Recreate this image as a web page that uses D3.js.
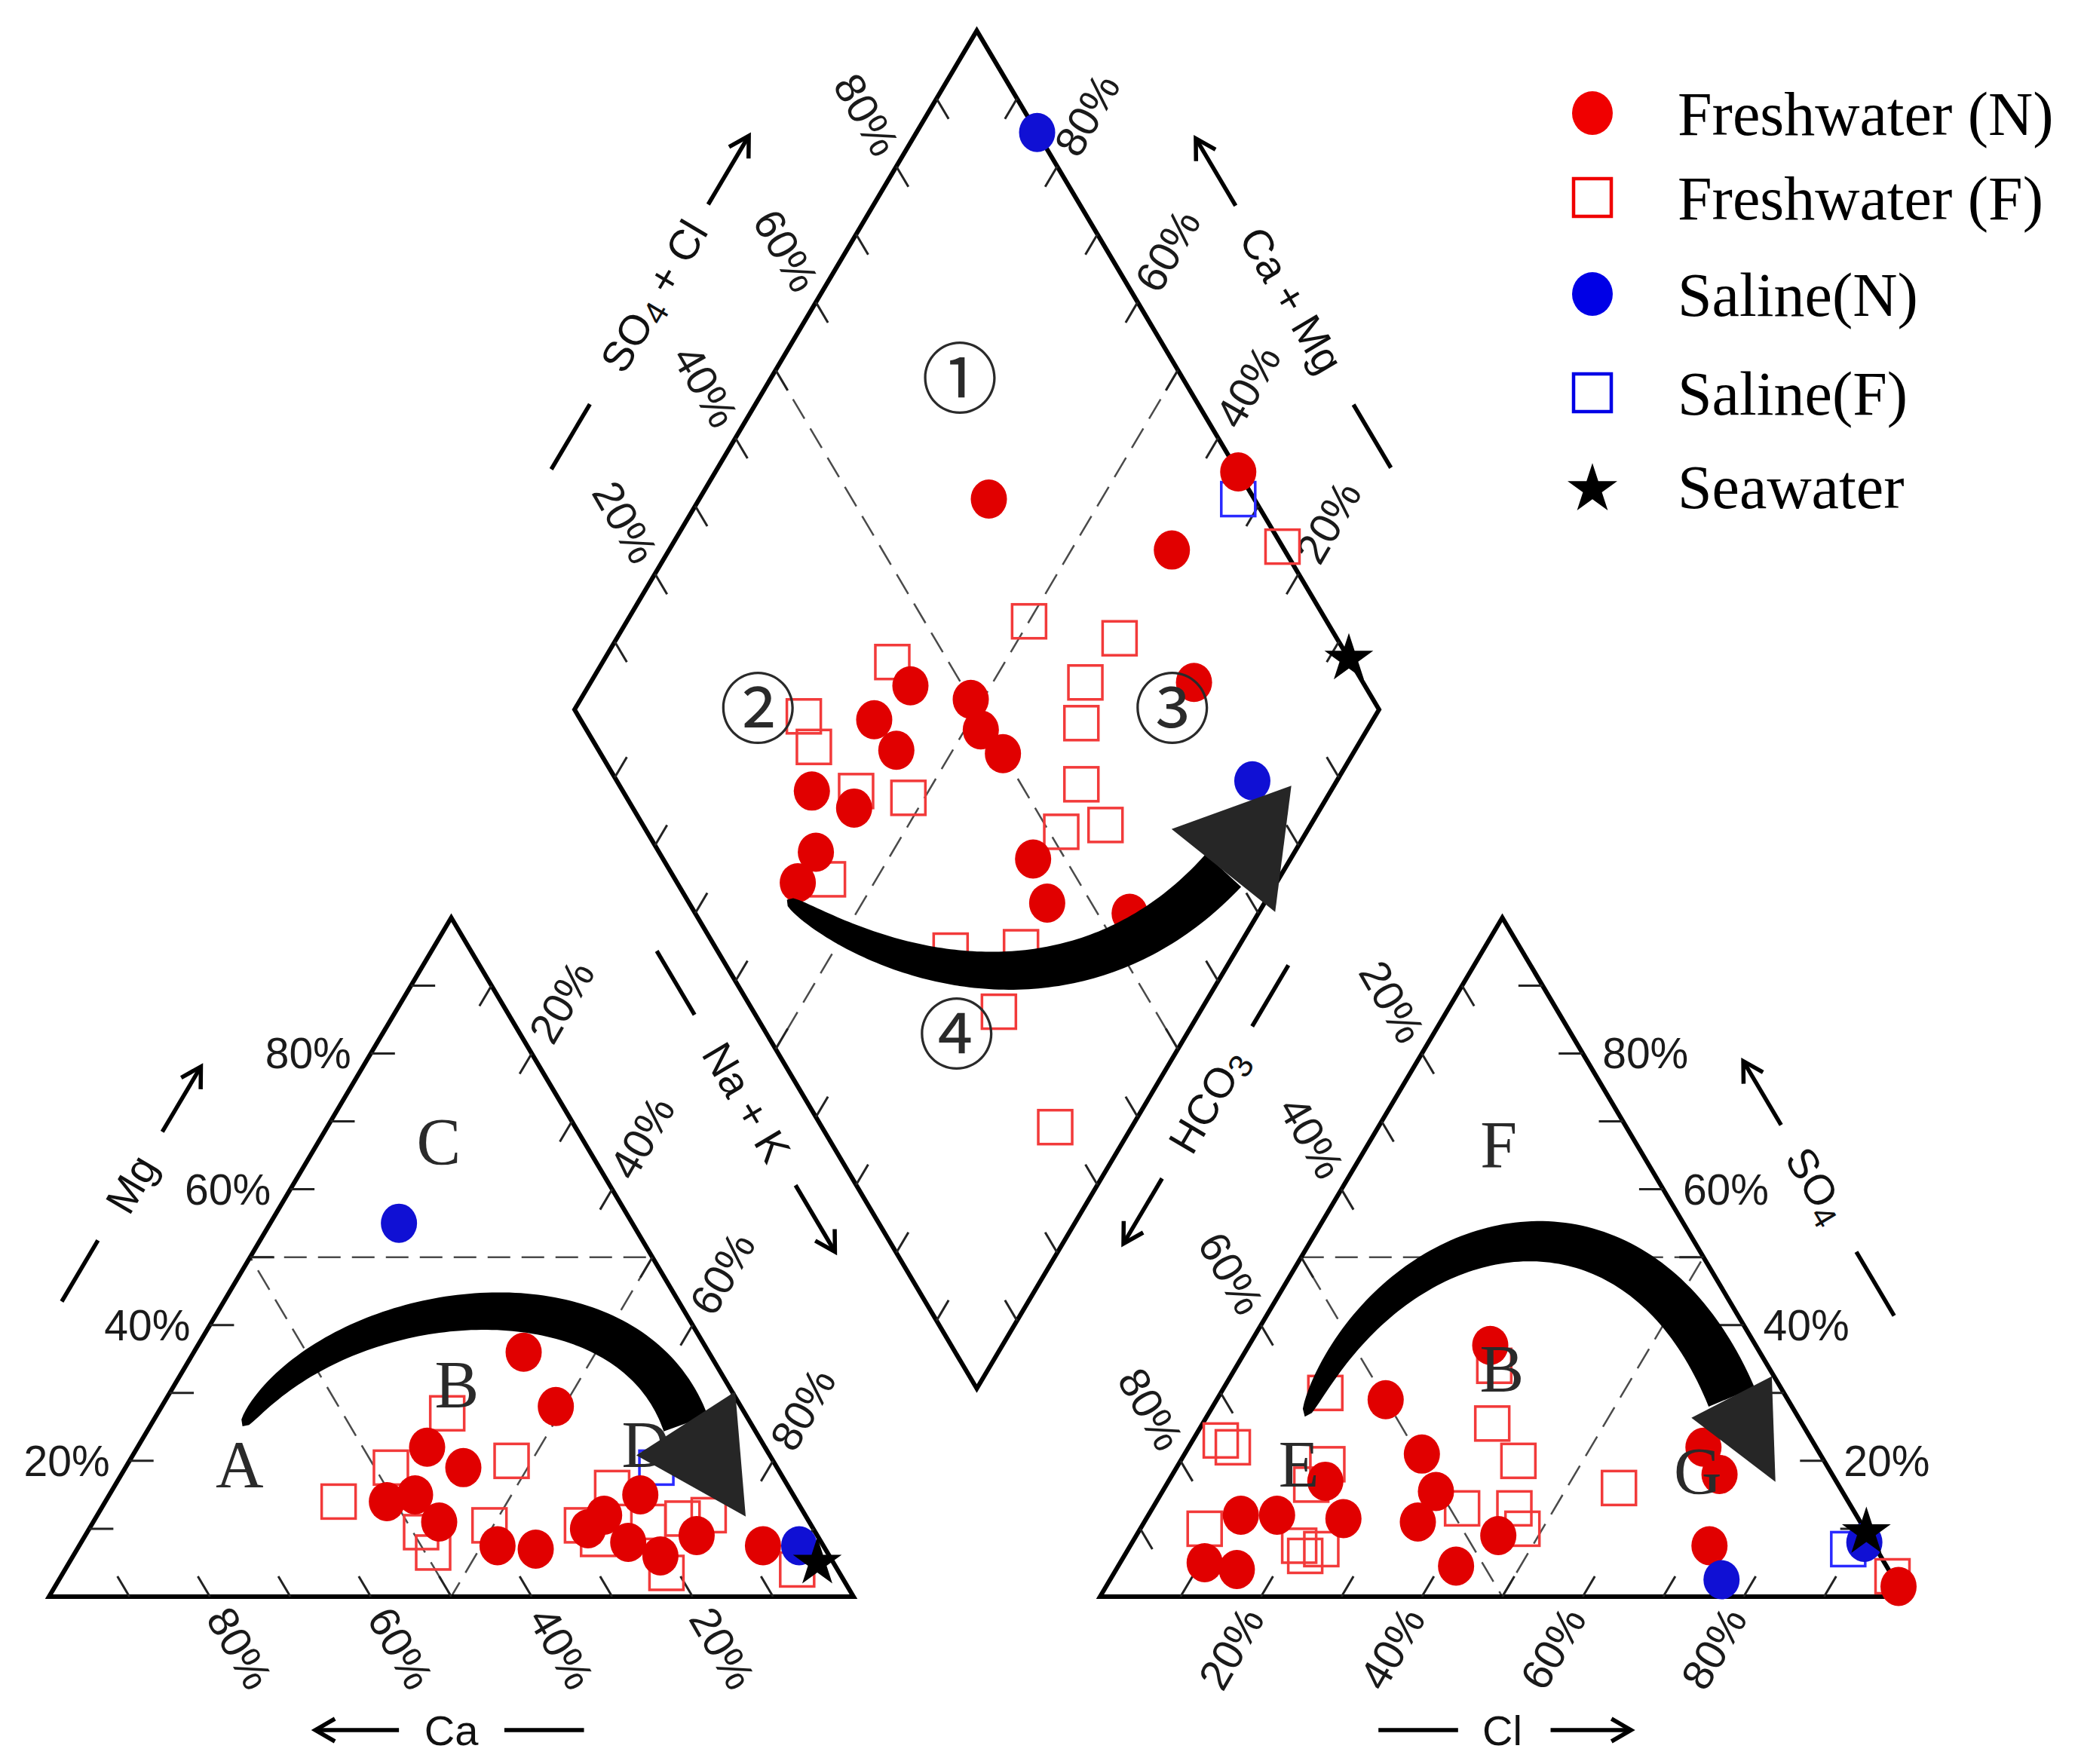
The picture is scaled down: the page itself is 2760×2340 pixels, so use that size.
<!DOCTYPE html>
<html><head><meta charset="utf-8">
<script src="https://cdn.jsdelivr.net/npm/d3@7"></script>
<style>html,body{margin:0;padding:0;background:#fff}</style>
</head><body>
<svg id="chart" width="2760" height="2340" xmlns="http://www.w3.org/2000/svg"></svg>
<script>
// ================= DATA =================
// Cation triangle points: [Mg %, Na+K %]  (Ca = 100 - Mg - Na+K)
const cationFreshN = [[36,41],[28,49],[22,36],[19,42],[14,35],[15,38],[11,43],[7.5,52],[7,57],
  [15,66],[12,63],[10,62],[8,68],[6,73],[9,76],[7.5,85]];
const cationFreshF = [[14,29],[19,33],[27,36],[20,47.5],[9.5,41.5],[6.5,44.5],[10.5,49.5],[10.5,61],
  [16,62],[8.5,64],[11,69],[3.5,75],[11.5,73],[12,76],[4,91]];
const cationSalineN = [[55,16],[7.5,89.5]];
const cationSalineF = [[19,66]];
const cationSeawater = [[5,93]];

// Anion triangle points: [SO4 %, Cl %]  (HCO3 = 100 - SO4 - Cl)
const anionFreshN = [[37,30],[29,21],[21,29.5],[15.5,34],[11,34],[17,19.5],[11.5,24.5],[12,16],[12,11.5],
  [5,10.5],[4,15],[4.5,42],[9,45],[22,64],[18,68],[7.5,72],[1.5,98.5]];
const anionFreshF = [[30,13],[34,32],[25.5,36],[20,42],[23,3.5],[22,5.5],[19.5,18.5],[16.5,18],[10,8],
  [7.5,21],[6,22.5],[7,24],[13,38.5],[13,45],[10,47.5],[16,56.5],[3,97]];
const anionSalineN = [[2.5,76],[8,91]];
const anionSalineF = [[7,89.5]];
const anionSeawater = [[9.5,90.5]];

// Diamond points: [SO4+Cl %, Na+K %]
const diamondFreshN = [[43.5,40],[36.5,38],[37,43],[23.5,35.5],[27.5,42],[19.5,40.5],[15,40.5],[50,48.5],
  [49,52],[50,56.5],[46,68],[44.5,73],[54,84],[79,75],[67,36],[100,65],[86,62.5]];
const diamondFreshF = [[63,50],[43,36],[73,62.5],[65.5,61.5],[62,64],[28,29],[27,32.5],[29,41],[35,48],
  [57.5,68.5],[57.5,74.5],[51.5,69.5],[19,44],[29,64.5],[38,73],[30.5,75],[29,90.5],[100,76]];
const diamondSalineN = [[100,15],[79,89.5]];
const diamondSalineF = [[98,67]];
const diamondSeawater = [[100,92.5]];

const tickValues = [20,40,60,80];
const legendLabels = ["Freshwater (N)","Freshwater (F)","Saline(N)","Saline(F)","Seawater"];
const cationRegions = [["C",67.1,14.9],["B",31.4,35],["A",19.6,13.9],["D",22.5,62.9]];
const anionRegions  = [["F",66.7,16.2],["B",33.7,33.1],["E",19.6,14.9],["G",18.6,65]];
const diamondRegions = [["\u2460",72.2,23.6],["\u2461",22.8,22.8],["\u2462",74.3,74.3],["\u2463",23.5,71.5]];

// ================= GEOMETRY =================
const SQ3 = Math.sqrt(3);
const GAP = 0.3065;
const x = d3.scaleLinear().domain([0, 2 + GAP]).range([65, 2526]);
const y = d3.scaleLinear().domain([0, 1]).range([2118, 2118 - 1040]);
function cat(mg, nak){ mg/=100; nak/=100; return [nak + mg/2, mg*SQ3/2]; }
function an(so4, cl){ so4/=100; cl/=100; return [1 + GAP + cl + so4/2, so4*SQ3/2]; }
function dia(a, c){ a/=100; c/=100; const bx = 1 + GAP/2, by = GAP/2*SQ3;
  return [bx + 0.5*(a + c - 1), by + SQ3/2*(a + 1 - c)]; }
const S = p => [x(p[0]), y(p[1])];

const svg = d3.select('#chart');
svg.append('rect').attr('width',2760).attr('height',2340).attr('fill','#fff');
const SANS = "'Liberation Sans', Arial, sans-serif";
const SERIF = "'Liberation Serif', 'Times New Roman', serif";
const line = d3.line();

// ---- dashed region lines ----
const gDash = svg.append('g').attr('fill','none').attr('stroke','#4a4a4a')
  .attr('stroke-width',2.5).attr('stroke-dasharray','30,15');
gDash.append('path').attr('d', line([cat(50,0),cat(50,50),cat(0,50)].map(S)) + 'Z');
gDash.append('path').attr('d', line([an(50,0),an(50,50),an(0,50)].map(S)) + 'Z');
gDash.append('path').attr('d', line([dia(50,0),dia(50,100)].map(S)));
gDash.append('path').attr('d', line([dia(100,50),dia(0,50)].map(S)));

// ---- frames ----
const gFrame = svg.append('g').attr('fill','none').attr('stroke','#000')
  .attr('stroke-width',6).attr('stroke-linejoin','miter').attr('stroke-miterlimit',10);
gFrame.append('path').attr('d', line([cat(0,0),cat(0,100),cat(100,0)].map(S)) + 'Z');
gFrame.append('path').attr('d', line([an(0,0),an(0,100),an(100,0)].map(S)) + 'Z');
gFrame.append('path').attr('d', line([dia(0,0),dia(100,0),dia(100,100),dia(0,100)].map(S)) + 'Z');

// ---- ticks ----
const gTick = svg.append('g').attr('stroke','#222').attr('stroke-width',3);
const TL = 3;
function tick(a, b){ const p = S(a), q = S(b);
  gTick.append('line').attr('x1',p[0]).attr('y1',p[1]).attr('x2',q[0]).attr('y2',q[1]); }
for (let v = 10; v <= 90; v += 10) {
  tick(cat(v,0), cat(v,TL));               // Mg (left edge)
  tick(cat(0,v), cat(TL,v-TL));            // Ca (bottom)
  tick(cat(v,100-v), cat(v-TL,100-v));     // Na+K (right edge)
  tick(an(v,100-v), an(v,100-v-TL));       // SO4 (right edge)
  tick(an(0,v), an(TL,v));                 // Cl (bottom)
  tick(an(v,0), an(v-TL,TL));              // HCO3 (left edge)
  tick(dia(v,0), dia(v,TL));
  tick(dia(100,v), dia(100-TL,v));
  tick(dia(0,v), dia(TL,v));
  tick(dia(v,100), dia(v,100-TL));
}

// ---- tick labels ----
const gLab = svg.append('g').attr('font-family',SANS).attr('font-size',57).attr('fill','#1a1a1a');
const LGAP = 22;
function hLabel(p, dx, anchor, t){
  gLab.append('text').attr('x',p[0]+dx).attr('y',p[1]).attr('dy','0.35em')
    .attr('text-anchor',anchor).text(t);
}
function rLabel(p, angle, anchor, t){
  gLab.append('text').attr('transform',`translate(${p[0]},${p[1]}) rotate(${angle})`)
    .attr('x', anchor==='start' ? LGAP : -LGAP).attr('dy','0.35em')
    .attr('text-anchor',anchor).text(t);
}
tickValues.forEach(v => {
  hLabel(S(cat(v,0)), -26, 'end', v+'%');
  rLabel(S(cat(0,100-v)), 60, 'start', v+'%');
  rLabel(S(cat(100-v,v)), -60, 'start', v+'%');
  hLabel(S(an(v,100-v)), 26, 'start', v+'%');
  rLabel(S(an(0,v)), -60, 'end', v+'%');
  rLabel(S(an(100-v,0)), 60, 'end', v+'%');
  rLabel(S(dia(v,0)), 60, 'end', v+'%');
  rLabel(S(dia(100,100-v)), -60, 'start', v+'%');
});

// ---- axis titles ----
const gTitle = svg.append('g').attr('font-family',SANS).attr('font-size',56).attr('fill','#111');
function axisTitle(E0, E1, centroid, spec){
  const e0 = S(E0), e1 = S(E1), c = S(centroid);
  const dx = e1[0]-e0[0], dy = e1[1]-e0[1], L = Math.hypot(dx,dy);
  const ux = dx/L, uy = dy/L;
  let nx = -uy, ny = ux;
  const mx = (e0[0]+e1[0])/2, my = (e0[1]+e1[1])/2;
  if (nx*(mx-c[0]) + ny*(my-c[1]) < 0) { nx = -nx; ny = -ny; }
  const P = t => [e0[0] + t*dx + spec.off*nx, e0[1] + t*dy + spec.off*ny];
  const d0 = P(spec.dash[0]), d1 = P(spec.dash[1]);
  gTitle.append('line').attr('x1',d0[0]).attr('y1',d0[1]).attr('x2',d1[0]).attr('y2',d1[1])
    .attr('stroke','#000').attr('stroke-width',5.5);
  const a0 = P(spec.arrow[0]), a1 = P(spec.arrow[1]);
  gTitle.append('line').attr('x1',a0[0]).attr('y1',a0[1]).attr('x2',a1[0]).attr('y2',a1[1])
    .attr('stroke','#000').attr('stroke-width',5.5);
  const hl = 30, ang = Math.PI/6;
  const bx = -ux, by = -uy;
  const w1 = [a1[0] + hl*(bx*Math.cos(ang) - by*Math.sin(ang)), a1[1] + hl*(bx*Math.sin(ang) + by*Math.cos(ang))];
  const w2 = [a1[0] + hl*(bx*Math.cos(-ang) - by*Math.sin(-ang)), a1[1] + hl*(bx*Math.sin(-ang) + by*Math.cos(-ang))];
  gTitle.append('path').attr('d', line([w1,a1,w2])).attr('fill','none')
    .attr('stroke','#000').attr('stroke-width',5.5).attr('stroke-linejoin','miter');
  let deg = Math.atan2(dy,dx)*180/Math.PI;
  if (deg > 90) deg -= 180; if (deg < -90) deg += 180;
  const tp = P(spec.text);
  const t = gTitle.append('text').attr('transform',`translate(${tp[0]},${tp[1]}) rotate(${deg})`)
    .attr('text-anchor','middle').attr('dy','0.35em');
  spec.parts.forEach(pt => {
    const s = t.append('tspan').text(pt[0]);
    if (pt[1] === 'sub') s.attr('font-size',44).attr('dy',9);
    if (pt[1] === 'up') s.attr('dy',-9);
  });
}
const cC = cat(33.3,33.3), aC = an(33.3,33.3), dC = dia(50,50);
axisTitle(cat(0,0), cat(100,0), cC, {off:185, dash:[0.33,0.42], text:0.503, arrow:[0.58,0.676], parts:[["Mg"]]});
axisTitle(cat(0,100), cat(0,0), cC, {off:177, dash:[0.335,0.434], text:0.5, arrow:[0.565,0.669], parts:[["Ca"]]});
axisTitle(cat(100,0), cat(0,100), cC, {off:212, dash:[0.169,0.263], text:0.392, arrow:[0.514,0.612], parts:[["Na + K"]]});
axisTitle(an(100,0), an(0,0), aC, {off:212, dash:[0.19,0.28], text:0.39, arrow:[0.504,0.60], parts:[["HCO"],["3","sub"]]});
axisTitle(an(0,0), an(0,100), aC, {off:177, dash:[0.346,0.445], text:0.5, arrow:[0.56,0.66], parts:[["Cl"]]});
axisTitle(an(0,100), an(100,0), aC, {off:178, dash:[0.313,0.407], text:0.505, arrow:[0.594,0.688], parts:[["SO"],["4","sub"]]});
axisTitle(dia(0,0), dia(100,0), dC, {off:189, dash:[0.247,0.343], text:0.502, arrow:[0.637,0.738], parts:[["SO"],["4","sub"],[" + Cl","up"]]});
axisTitle(dia(100,100), dia(100,0), dC, {off:177, dash:[0.256,0.349], text:0.503, arrow:[0.642,0.741], parts:[["Ca + Mg"]]});

// ---- data marks ----
const RED = '#e10000', BLUE = '#1010d4', SQ_RED = '#f23a3a', SQ_BLUE = '#2a2aff';
const gPts = svg.append('g');
function squares(data, proj, col){
  data.forEach(d => { const p = S(proj(d[0],d[1]));
    gPts.append('rect').attr('x',p[0]-22.5).attr('y',p[1]-22.5).attr('width',45).attr('height',45)
      .attr('fill','none').attr('stroke',col).attr('stroke-width',3.5); });
}
function circles(data, proj, col){
  data.forEach(d => { const p = S(proj(d[0],d[1]));
    gPts.append('ellipse').attr('cx',p[0]).attr('cy',p[1]).attr('rx',24).attr('ry',26).attr('fill',col); });
}
const starPath = d3.symbol(d3.symbolStar, 1300);
function stars(data, proj){
  data.forEach(d => { const p = S(proj(d[0],d[1]));
    gPts.append('path').attr('d',starPath()).attr('transform',`translate(${p[0]},${p[1]})`).attr('fill','#000'); });
}
squares(cationFreshF, cat, SQ_RED); squares(anionFreshF, an, SQ_RED); squares(diamondFreshF, dia, SQ_RED);
squares(cationSalineF, cat, SQ_BLUE); squares(anionSalineF, an, SQ_BLUE); squares(diamondSalineF, dia, SQ_BLUE);
circles(cationFreshN, cat, RED); circles(anionFreshN, an, RED); circles(diamondFreshN, dia, RED);
circles(cationSalineN, cat, BLUE); circles(anionSalineN, an, BLUE); circles(diamondSalineN, dia, BLUE);
stars(cationSeawater, cat); stars(anionSeawater, an); stars(diamondSeawater, dia);

// ---- region labels ----
const gReg = svg.append('g').attr('fill','#2a2a2a').attr('text-anchor','middle');
cationRegions.forEach(r => { const p = S(cat(r[1],r[2]));
  gReg.append('text').attr('x',p[0]).attr('y',p[1]).attr('dy','0.35em').attr('font-family',SERIF).attr('font-size',88).text(r[0]); });
anionRegions.forEach(r => { const p = S(an(r[1],r[2]));
  gReg.append('text').attr('x',p[0]).attr('y',p[1]).attr('dy','0.35em').attr('font-family',SERIF).attr('font-size',88).text(r[0]); });
diamondRegions.forEach(r => { const p = S(dia(r[1],r[2]));
  gReg.append('text').attr('x',p[0]).attr('y',p[1]).attr('dy','0.36em')
    .attr('font-family',"'Noto Sans CJK JP', 'DejaVu Sans', sans-serif").attr('font-size',102).text(r[0]); });

// ---- trend arrows (control points in each panel's own percent coordinates) ----
const arrows = [
  {proj:cat, pts:[[25.1,11.5],[45.1,12.7],[50,46.7],[25.5,66.4]], tip:[11.8,80.7], wEnd:62, half:78},
  {proj:an,  pts:[[26.5,12.2],[55.7,7.9],[64.7,33.7],[29.4,63.8]], tip:[16.9,75.5], wEnd:66, half:60},
  {proj:dia, pts:[[12.4,40.4],[20.8,61],[41.5,86.6],[68.8,92.5]], tip:[83.5,94.7], wEnd:64, half:88}
];
const gArr = svg.append('g');
arrows.forEach(a => {
  const P = a.pts.map(p => S(a.proj(p[0],p[1])));
  const tip = S(a.proj(a.tip[0],a.tip[1]));
  const N = 100, L = [], R = [];
  for (let i = 0; i <= N; i++) {
    const t = i/N, m = 1-t;
    const px = m*m*m*P[0][0] + 3*m*m*t*P[1][0] + 3*m*t*t*P[2][0] + t*t*t*P[3][0];
    const py = m*m*m*P[0][1] + 3*m*m*t*P[1][1] + 3*m*t*t*P[2][1] + t*t*t*P[3][1];
    const dx = 3*m*m*(P[1][0]-P[0][0]) + 6*m*t*(P[2][0]-P[1][0]) + 3*t*t*(P[3][0]-P[2][0]);
    const dy = 3*m*m*(P[1][1]-P[0][1]) + 6*m*t*(P[2][1]-P[1][1]) + 3*t*t*(P[3][1]-P[2][1]);
    const len = Math.hypot(dx,dy) || 1;
    const nx = -dy/len, ny = dx/len;
    const w = a.wEnd*Math.pow(t,0.35)/2;
    L.push([px+nx*w, py+ny*w]); R.push([px-nx*w, py-ny*w]);
  }
  gArr.append('path').attr('d', line(L.concat(R.reverse())) + 'Z').attr('fill','#000');
  const bx = P[3][0], by = P[3][1];
  const hx = tip[0]-bx, hy = tip[1]-by, hl = Math.hypot(hx,hy);
  const qx = -hy/hl, qy = hx/hl;
  gArr.append('path').attr('d', line([[bx+qx*a.half, by+qy*a.half], tip, [bx-qx*a.half, by-qy*a.half]]) + 'Z')
    .attr('fill','#262626');
});

// ---- legend ----
const gLeg = svg.append('g');
const legendRows = [
  {k:legendLabels[0], type:'circle', col:'#f00000'},
  {k:legendLabels[1], type:'square', col:'#f00000'},
  {k:legendLabels[2], type:'circle', col:'#0000e6'},
  {k:legendLabels[3], type:'square', col:'#0000e6'},
  {k:legendLabels[4], type:'star', col:'#000'}
];
const legYs = [150, 262, 390, 521, 645];
legendRows.forEach((r,i) => {
  const yy = legYs[i], xx = 2112;
  if (r.type === 'circle') gLeg.append('ellipse').attr('cx',xx).attr('cy',yy).attr('rx',27).attr('ry',29).attr('fill',r.col);
  if (r.type === 'square') gLeg.append('rect').attr('x',xx-25).attr('y',yy-25).attr('width',50).attr('height',50)
      .attr('fill','none').attr('stroke',r.col).attr('stroke-width',4.5);
  if (r.type === 'star') gLeg.append('path').attr('d',d3.symbol(d3.symbolStar,1350)()).attr('transform',`translate(${xx},${yy+4})`).attr('fill','#000');
  gLeg.append('text').attr('x',2225).attr('y',yy).attr('dy','0.35em').attr('font-family',SERIF)
    .attr('font-size',82).attr('fill','#000').text(r.k);
});
</script>
</body></html>
